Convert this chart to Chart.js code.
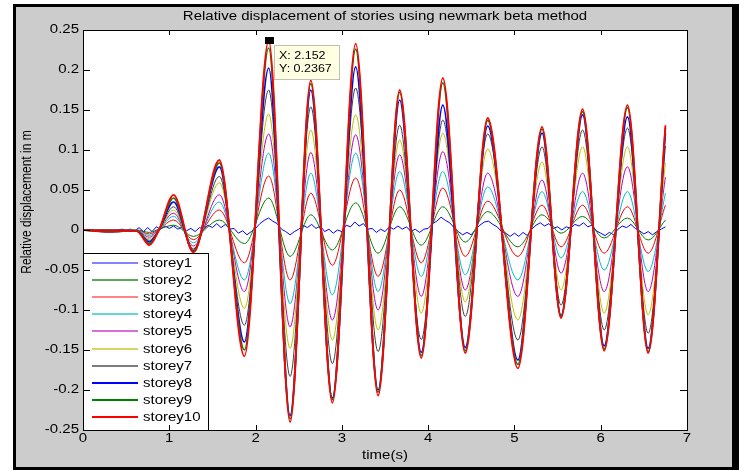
<!DOCTYPE html>
<html>
<head>
<meta charset="utf-8">
<script src="https://cdn.jsdelivr.net/npm/chart.js@4/dist/chart.umd.min.js"></script>
<style>
html,body{margin:0;padding:0;background:#fff;}
canvas{display:block;}
</style>
</head>
<body>
<canvas id="c" width="739" height="470"></canvas>
<script>
// ---- data ----
const titleText = "Relative displacement of stories using newmark beta method";
const xTitle = "time(s)";
const yTitle = "Relative displacement in m";
const xTicks = [0, 1, 2, 3, 4, 5, 6, 7];
const xTickLabels = ["0", "1", "2", "3", "4", "5", "6", "7"];
const yTicks = [0.25, 0.2, 0.15, 0.1, 0.05, 0, -0.05, -0.1, -0.15, -0.2, -0.25];
const yTickLabels = ["0.25", "0.2", "0.15", "0.1", "0.05", "0", "-0.05", "-0.1", "-0.15", "-0.2", "-0.25"];
const seriesNames = ["storey1","storey2","storey3","storey4","storey5","storey6","storey7","storey8","storey9","storey10"];

// times of the main peaks/troughs (storeys 2-10)
const times = [0, 0.3, 0.62, 0.77, 0.88, 1.05, 1.28, 1.58, 1.87, 2.152, 2.40, 2.64, 2.89, 3.16, 3.42, 3.67, 3.92, 4.17, 4.43, 4.69, 5.04, 5.32, 5.54, 5.79, 6.04, 6.31, 6.55, 6.75];

const storey2  = [0, 0, 0, -0.003, 0.001, 0.006, -0.008, 0.0125, -0.017, 0.040, -0.033, 0.019, -0.025, 0.034, -0.029, 0.029, -0.019, 0.029, -0.015, 0.023, -0.021, 0.019, -0.004, 0.017, -0.010, 0.015, -0.0125, 0.0125];
const storey3  = [0, 0, 0, -0.005, 0.001, 0.0125, -0.012, 0.025, -0.041, 0.0675, -0.0625, 0.046, -0.044, 0.065, -0.058, 0.050, -0.041, 0.0525, -0.033, 0.036, -0.033, 0.031, -0.021, 0.031, -0.029, 0.029, -0.029, 0.031];
const storey4  = [0, -0.001, 0, -0.007, 0.001, 0.017, -0.016, 0.035, -0.0625, 0.096, -0.092, 0.071, -0.081, 0.096, -0.077, 0.073, -0.058, 0.073, -0.056, 0.054, -0.0625, 0.048, -0.035, 0.048, -0.050, 0.048, -0.052, 0.046];
const storey5  = [0, -0.001, -0.001, -0.009, 0.001, 0.021, -0.020, 0.044, -0.077, 0.120, -0.121, 0.097, -0.1125, 0.119, -0.100, 0.094, -0.083, 0.098, -0.075, 0.071, -0.083, 0.0625, -0.054, 0.071, -0.077, 0.079, -0.077, 0.066];
const storey6  = [0, -0.001, -0.001, -0.011, 0.000, 0.025, -0.023, 0.059, -0.098, 0.145, -0.148, 0.125, -0.1375, 0.144, -0.125, 0.1125, -0.104, 0.121, -0.090, 0.101, -0.1125, 0.085, -0.075, 0.104, -0.104, 0.104, -0.106, 0.084];
const storey7  = [0, -0.001, -0.001, -0.013, 0.000, 0.029, -0.024, 0.067, -0.119, 0.175, -0.183, 0.154, -0.167, 0.1775, -0.152, 0.131, -0.137, 0.1375, -0.108, 0.120, -0.1375, 0.104, -0.094, 0.125, -0.125, 0.1275, -0.129, 0.105];
const storey8  = [0, -0.002, -0.001, -0.015, 0.000, 0.035, -0.026, 0.079, -0.140, 0.2025, -0.232, 0.175, -0.210, 0.204, -0.200, 0.1625, -0.153, 0.156, -0.147, 0.130, -0.1625, 0.121, -0.107, 0.144, -0.145, 0.1415, -0.148, 0.121];
const storey9  = [0, -0.002, -0.001, -0.017, 0.000, 0.040, -0.027, 0.084, -0.150, 0.2275, -0.236, 0.183, -0.212, 0.226, -0.203, 0.172, -0.157, 0.184, -0.151, 0.137, -0.168, 0.126, -0.108, 0.148, -0.149, 0.153, -0.152, 0.128];
const storey10 = [0, -0.002, -0.001, -0.019, 0.000, 0.044, -0.028, 0.0875, -0.158, 0.2367, -0.240, 0.187, -0.216, 0.233, -0.207, 0.175, -0.160, 0.190, -0.154, 0.140, -0.173, 0.129, -0.110, 0.151, -0.151, 0.156, -0.154, 0.131];

// storey1: small rippling response, sampled every 0.05 s
const timesS1 = [0,0.05,0.1,0.15,0.2,0.25,0.3,0.35,0.4,0.45,0.5,0.55,0.6,0.65,0.7,0.75,0.8,0.85,0.9,0.95,1,1.05,1.1,1.15,1.2,1.25,1.3,1.35,1.4,1.45,1.5,1.55,1.6,1.65,1.7,1.75,1.8,1.85,1.9,1.95,2,2.05,2.1,2.15,2.2,2.25,2.3,2.35,2.4,2.45,2.5,2.55,2.6,2.65,2.7,2.75,2.8,2.85,2.9,2.95,3,3.05,3.1,3.15,3.2,3.25,3.3,3.35,3.4,3.45,3.5,3.55,3.6,3.65,3.7,3.75,3.8,3.85,3.9,3.95,4,4.05,4.1,4.15,4.2,4.25,4.3,4.35,4.4,4.45,4.5,4.55,4.6,4.65,4.7,4.75,4.8,4.85,4.9,4.95,5,5.05,5.1,5.15,5.2,5.25,5.3,5.35,5.4,5.45,5.5,5.55,5.6,5.65,5.7,5.75,5.8,5.85,5.9,5.95,6,6.05,6.1,6.15,6.2,6.25,6.3,6.35,6.4,6.45,6.5,6.55,6.6,6.65,6.7,6.75];
const storey1 = [0,0,0,0,0,0,0,0,0,0.001,0,0.001,-0.001,0.003,-0.002,0.003,-0.002,0.004,0.001,0.005,0.002,0.005,0.001,0.004,-0.001,0.002,-0.002,0.003,0.001,0.006,0.003,0.008,0.003,0.007,0.001,0.002,-0.004,-0.001,-0.006,-0.002,0.002,0.008,0.012,0.015,0.011,0.008,0.001,-0.002,-0.006,-0.002,0.001,0.006,0.003,0.007,0.002,0.005,-0.002,0.001,-0.004,0,-0.002,0.006,0.004,0.010,0.005,0.008,0.001,0.002,-0.003,0.001,-0.002,0.004,0.001,0.005,0.001,0.004,-0.002,0.001,-0.003,0.001,0.002,0.008,0.011,0.016,0.012,0.009,0.003,-0.002,-0.006,-0.003,-0.006,0.001,0.006,0.010,0.011,0.007,0.004,-0.002,-0.004,-0.008,-0.004,-0.008,-0.003,-0.007,0.001,0.006,0.009,0.005,0.008,0.002,0.004,0,0.004,0.002,0.007,0.005,0.009,0.004,0.006,-0.001,-0.004,-0.007,-0.003,-0.006,0.001,0.005,0.003,0.007,0.002,-0.001,-0.005,-0.002,-0.006,-0.002,0.001,0.004];

// datatip shown in the reference
const tipX = 2.152;
const tipY = 0.2367;

// ---- styling ----
const colors = ['#0000ff','#008000','#ff0000','#00bfbf','#bf00bf','#bfbf00','#404040','#0000ff','#008000','#ff0000'];
const legendColors = ['#5a5aff','#2a8a2a','#ff5a5a','#30c8c8','#c840c8','#c8c830','#505050','#0000ff','#008000','#ff0000'];
const widths = [1, 1, 1, 1, 1, 1, 1, 1.7, 1.7, 1.8];
const FONT = '"Liberation Sans", Arial, sans-serif';
const SX = 1.25; // horizontal stretch of the reference's text

const allY = [storey1, storey2, storey3, storey4, storey5, storey6, storey7, storey8, storey9, storey10];

const datasets = allY.map((vals, i) => {
  const xs = i === 0 ? timesS1 : times;
  return {
    label: seriesNames[i],
    data: xs.map((t, k) => ({x: t, y: vals[k]})),
    borderColor: colors[i],
    backgroundColor: colors[i],
    borderWidth: widths[i],
    pointRadius: 0,
    fill: false,
    tension: 0,
    cubicInterpolationMode: i === 0 ? 'default' : 'monotone',
    order: 10 - i
  };
});

function sText(ctx, txt, x, y, align, font, sx) {
  ctx.save();
  ctx.font = font;
  ctx.textAlign = align;
  ctx.textBaseline = 'middle';
  ctx.translate(x, y);
  ctx.scale(sx, 1);
  ctx.fillText(txt, 0, 0);
  ctx.restore();
}

const matlabPlugin = {
  id: 'matlab',
  beforeDraw(chart) {
    const ctx = chart.ctx, a = chart.chartArea;
    ctx.save();
    ctx.fillStyle = '#ffffff';
    ctx.fillRect(0, 0, chart.width, chart.height);
    ctx.fillStyle = '#000000';
    ctx.fillRect(13, 4, chart.width - 13, chart.height - 4);
    ctx.fillStyle = '#cccccc';
    ctx.fillRect(16, 7, 716, 460);
    ctx.fillStyle = '#ffffff';
    ctx.fillRect(a.left, a.top, a.right - a.left, a.bottom - a.top);
    ctx.restore();
  },
  afterDatasetsDraw(chart) {
    const ctx = chart.ctx, a = chart.chartArea;
    const xs = chart.scales.x, ys = chart.scales.y;
    ctx.save();
    // legend
    const lx = a.left, ly = 253, lw = 125, lh = a.bottom - 253;
    ctx.fillStyle = '#ffffff';
    ctx.fillRect(lx, ly, lw, lh);
    ctx.strokeStyle = '#000000';
    ctx.lineWidth = 1;
    ctx.strokeRect(lx + 0.5, ly + 0.5, lw, lh);
    for (let i = 0; i < seriesNames.length; i++) {
      const y = Math.round(263 + 17.1 * i);
      ctx.strokeStyle = legendColors[i];
      ctx.lineWidth = i >= 7 ? 2 : 1.6;
      ctx.beginPath();
      ctx.moveTo(92, y);
      ctx.lineTo(138, y);
      ctx.stroke();
      ctx.fillStyle = '#000';
      sText(ctx, seriesNames[i], 143, y + 0.5, 'left', '12px ' + FONT, SX);
    }
    // datatip
    const px = xs.getPixelForValue(tipX), py = ys.getPixelForValue(tipY);
    ctx.fillStyle = '#000';
    ctx.fillRect(Math.round(px) - 4, Math.round(py) - 4, 9, 7);
    ctx.fillStyle = '#ffffe1';
    ctx.fillRect(274, 45, 65, 34);
    ctx.strokeStyle = '#c0c0b0';
    ctx.lineWidth = 1;
    ctx.strokeRect(274.5, 45.5, 65, 34);
    ctx.fillStyle = '#000';
    sText(ctx, 'X: ' + tipX, 279, 56, 'left', '10px ' + FONT, SX);
    sText(ctx, 'Y: ' + tipY, 279, 69, 'left', '10px ' + FONT, SX);
    // axes box
    ctx.strokeStyle = '#000';
    ctx.lineWidth = 1;
    ctx.strokeRect(a.left + 0.5, a.top + 0.5, a.right - a.left, a.bottom - a.top);
    // ticks (inward, all four sides)
    ctx.beginPath();
    xTicks.forEach(v => {
      const x = Math.round(xs.getPixelForValue(v)) + 0.5;
      ctx.moveTo(x, a.bottom); ctx.lineTo(x, a.bottom - 5);
      ctx.moveTo(x, a.top); ctx.lineTo(x, a.top + 5);
    });
    yTicks.forEach(v => {
      const y = Math.round(ys.getPixelForValue(v)) + 0.5;
      ctx.moveTo(a.left, y); ctx.lineTo(a.left + 7, y);
      ctx.moveTo(a.right, y); ctx.lineTo(a.right - 7, y);
    });
    ctx.stroke();
    // tick labels
    ctx.fillStyle = '#000';
    xTicks.forEach((v, i) => {
      sText(ctx, xTickLabels[i], xs.getPixelForValue(v), a.bottom + 9, 'center', '12px ' + FONT, SX);
    });
    yTicks.forEach((v, i) => {
      sText(ctx, yTickLabels[i], a.left - 4, ys.getPixelForValue(v), 'right', '12px ' + FONT, SX);
    });
    // titles
    const cx = (a.left + a.right) / 2;
    sText(ctx, titleText, cx, 17, 'center', '12px ' + FONT, SX);
    sText(ctx, xTitle, cx, 456, 'center', '12px ' + FONT, SX);
    ctx.save();
    ctx.translate(27, 202);
    ctx.rotate(-Math.PI / 2);
    ctx.scale(1, SX);
    ctx.font = '12px ' + FONT;
    ctx.textAlign = 'center';
    ctx.textBaseline = 'middle';
    ctx.fillText(yTitle, 0, 0);
    ctx.restore();
    ctx.restore();
  }
};

new Chart(document.getElementById('c'), {
  type: 'line',
  data: { datasets },
  options: {
    responsive: false,
    animation: false,
    devicePixelRatio: 1,
    layout: { padding: { left: 83, right: 52, top: 30, bottom: 40 } },
    plugins: { legend: { display: false }, tooltip: { enabled: false }, title: { display: false } },
    scales: {
      x: { type: 'linear', min: 0, max: 7, display: false, ticks: { stepSize: 1 } },
      y: { type: 'linear', min: -0.25, max: 0.25, display: false, ticks: { stepSize: 0.05 } }
    }
  },
  plugins: [matlabPlugin]
});
</script>
</body>
</html>
